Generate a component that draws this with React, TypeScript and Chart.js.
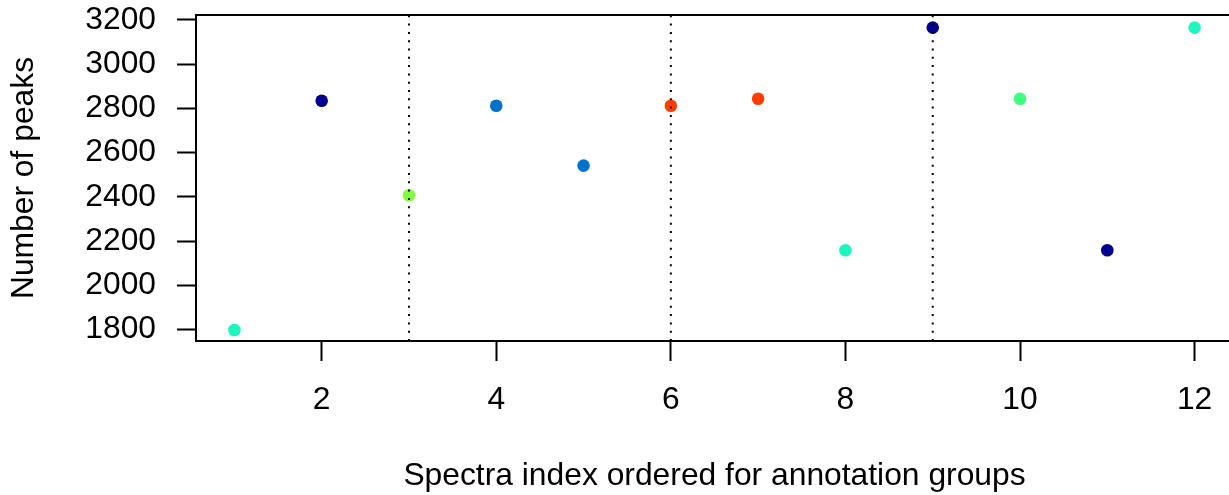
import React, { useEffect, useRef } from "react";
import { Chart, registerables } from "chart.js";

Chart.register(...registerables);

const spectraIndex = [1, 2, 3, 4, 5, 6, 7, 8, 9, 10, 11, 12];
const numberOfPeaks = [1798, 2834, 2407, 2812, 2541, 2812, 2843, 2158, 3165, 2843, 2158, 3165];
const pointColors = [
  "#1CF7BE", "#00008F", "#80FF40", "#0072CC", "#0072CC", "#FF3D00",
  "#FF3D00", "#1CF7BE", "#00008F", "#40FF80", "#00008F", "#1CF7BE",
];
const groupBoundaries = [3, 6, 9];
const xTicks = [2, 4, 6, 8, 10, 12];
const yTicks = [1800, 2000, 2200, 2400, 2600, 2800, 3000, 3200];
const xRange = [0.56, 12.44];
const yRange = [1748, 3222];
const xTitle = "Spectra index ordered for annotation groups";
const yTitle = "Number of peaks";

const FONT = { family: "'Liberation Sans', Arial, sans-serif", size: 31.8 };

const boxPlugin = {
  id: "boxPlugin",
  afterDraw(chart: any) {
    const { ctx, chartArea } = chart;
    ctx.save();
    ctx.strokeStyle = "#000";
    ctx.lineWidth = 2;
    ctx.strokeRect(chartArea.left, chartArea.top, chartArea.right - chartArea.left, chartArea.bottom - chartArea.top);
    ctx.restore();
  },
};

export default function App() {
  const ref = useRef<HTMLCanvasElement>(null);
  useEffect(() => {
    if (!ref.current) return;
    const lineSets = groupBoundaries.map((b) => ({
      type: "line" as const,
      data: [
        { x: b, y: yRange[0] },
        { x: b, y: yRange[1] },
      ],
      borderColor: "#000",
      borderWidth: 2,
      borderDash: [2, 6.3],
      pointRadius: 0,
      showLine: true,
      order: 1,
    }));
    const chart = new Chart(ref.current, {
      type: "scatter",
      data: {
        datasets: [
          ...lineSets,
          {
            type: "scatter" as const,
            data: spectraIndex.map((x, i) => ({ x, y: numberOfPeaks[i] })),
            backgroundColor: pointColors,
            pointBackgroundColor: pointColors,
            borderWidth: 0,
            pointBorderWidth: 0,
            pointRadius: 6.3,
            order: 2,
          },
        ] as any,
      },
      options: {
        animation: false,
        responsive: false,
        devicePixelRatio: 1,
        layout: { padding: { top: 15, right: 7, left: 0, bottom: 0 } },
        plugins: { legend: { display: false }, tooltip: { enabled: false } },
        scales: {
          x: {
            type: "linear",
            min: xRange[0],
            max: xRange[1],
            afterBuildTicks: (s: any) => {
              s.ticks = xTicks.map((v) => ({ value: v }));
            },
            afterFit: (s: any) => {
              s.height = 154;
              s.paddingLeft = 0;
              s.paddingRight = 0;
            },
            grid: {
              drawOnChartArea: false,
              drawTicks: true,
              tickLength: 20,
              tickColor: "#000",
              tickWidth: 2,
            },
            border: { display: false },
            ticks: {
              color: "#000",
              font: FONT,
              padding: 20,
              maxRotation: 0,
              autoSkip: false,
              callback: (v: any) => String(v),
            },
            title: {
              display: true,
              text: xTitle,
              color: "#000",
              font: FONT,
              padding: { top: 0, bottom: 0 },
            },
          },
          y: {
            type: "linear",
            min: yRange[0],
            max: yRange[1],
            afterBuildTicks: (s: any) => {
              s.ticks = yTicks.map((v) => ({ value: v }));
            },
            afterFit: (s: any) => {
              s.width = 196;
              s.paddingTop = 0;
              s.paddingBottom = 0;
            },
            grid: {
              drawOnChartArea: false,
              drawTicks: true,
              tickLength: 19,
              tickColor: "#000",
              tickWidth: 2,
            },
            border: { display: false },
            ticks: {
              color: "#000",
              font: FONT,
              padding: 21,
              autoSkip: false,
              callback: (v: any) => String(v),
            },
            title: {
              display: true,
              text: yTitle,
              color: "#000",
              font: FONT,
              padding: { top: 5.5, bottom: 0 },
            },
          },
        },
      },
      plugins: [boxPlugin],
    });
    return () => chart.destroy();
  }, []);
  return (
    <div style={{ position: "fixed", left: 0, top: 0, width: 1229, height: 495, overflow: "hidden", background: "#fff" }}>
      <canvas ref={ref} width={1240} height={495} style={{ width: 1240, height: 495, display: "block" }} />
    </div>
  );
}
